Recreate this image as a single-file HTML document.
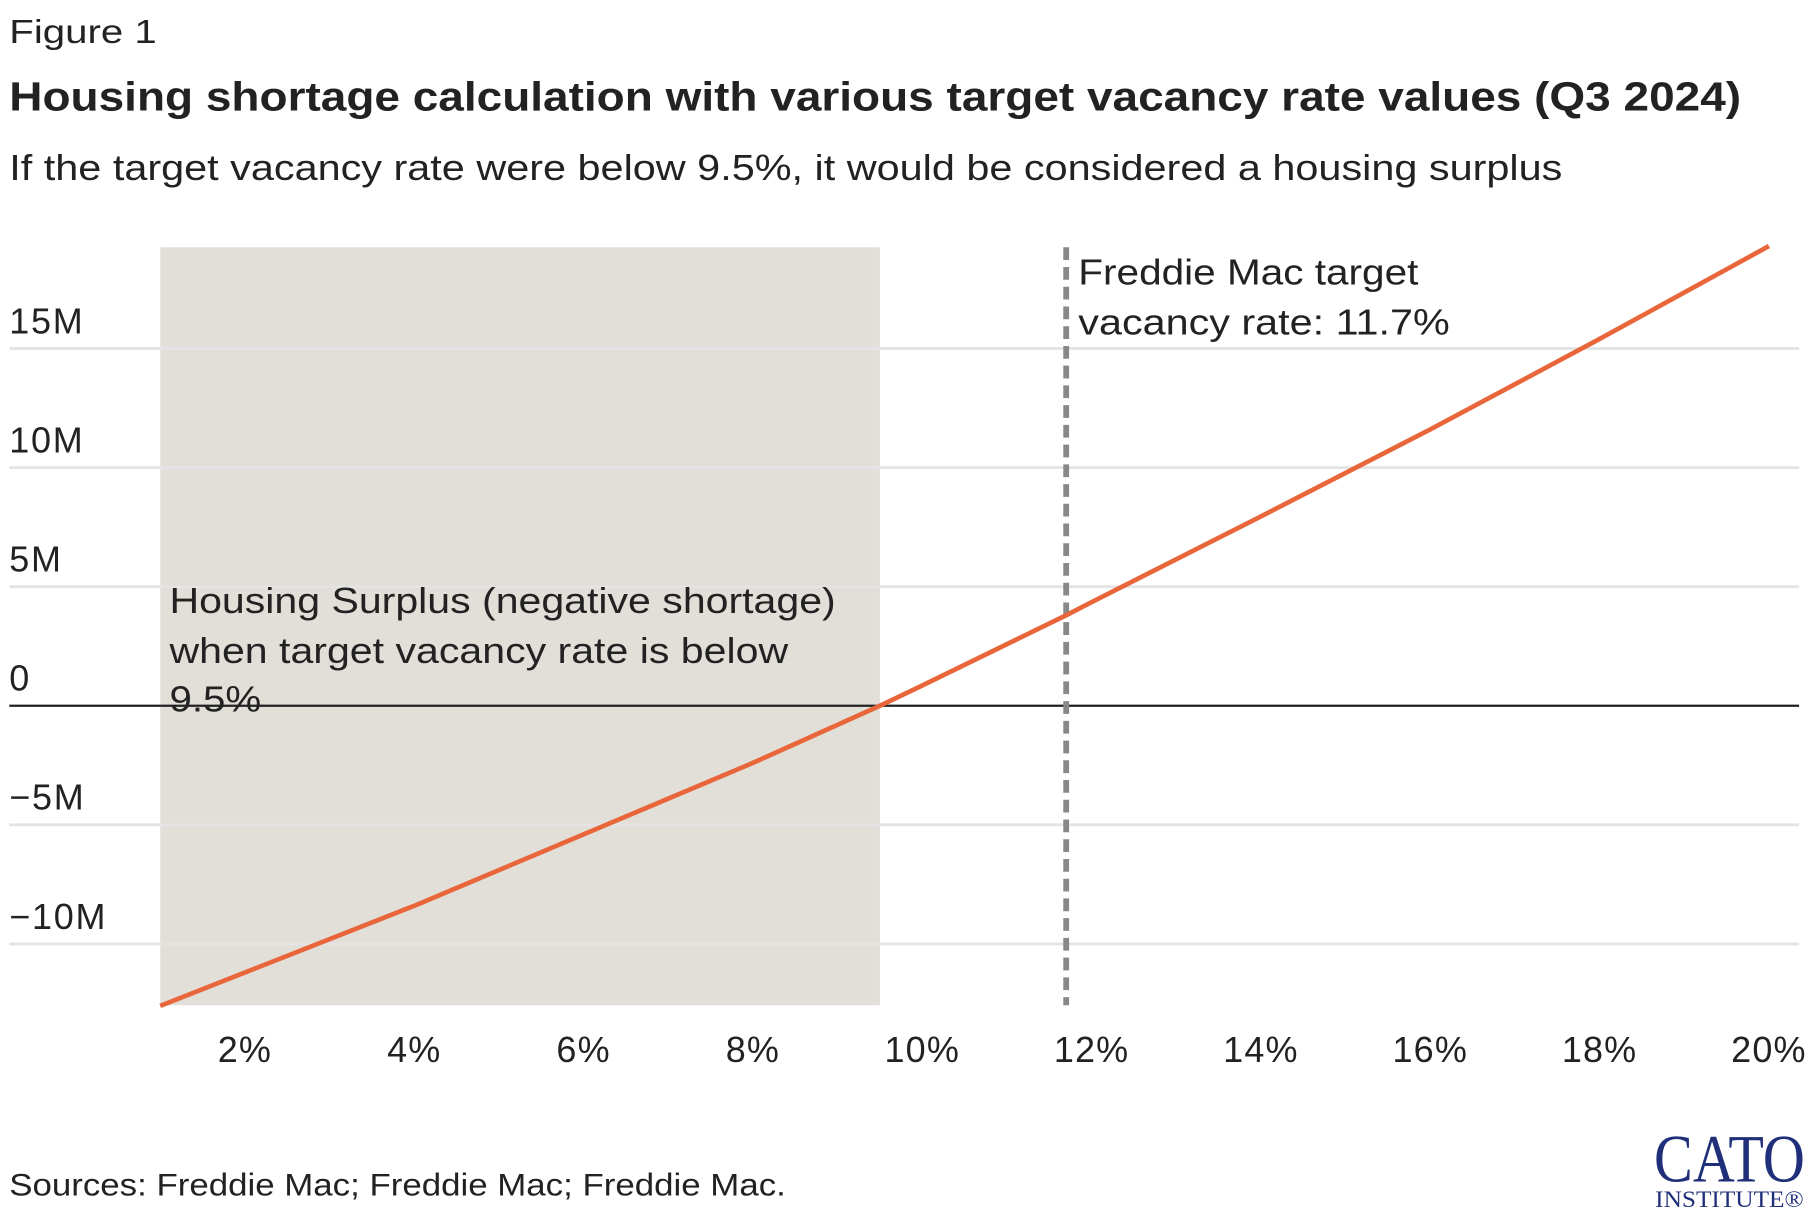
<!DOCTYPE html>
<html><head><meta charset="utf-8"><style>
html,body{margin:0;padding:0;background:#fff}
svg{display:block}
text{font-family:"Liberation Sans",sans-serif;fill:#222}
</style></head><body>
<svg width="1820" height="1220" viewBox="0 0 1568 1051" id="chart">
<text x="8" y="37" font-size="29" textLength="127" lengthAdjust="spacingAndGlyphs">Figure 1</text>
<text x="8" y="95" font-size="35" font-weight="bold" textLength="1492" lengthAdjust="spacingAndGlyphs">Housing shortage calculation with various target vacancy rate values (Q3 2024)</text>
<text x="8" y="155" font-size="31" textLength="1338" lengthAdjust="spacingAndGlyphs">If the target vacancy rate were below 9.5%, it would be considered a housing surplus</text>
<g id="plot"></g>
<text x="8" y="1030" font-size="27" textLength="669" lengthAdjust="spacingAndGlyphs">Sources: Freddie Mac; Freddie Mac; Freddie Mac.</text>
<g>
<text x="1490" y="1018" font-size="58" text-anchor="middle" style="font-family:'Liberation Serif',serif;fill:#1f2f7a" textLength="130" lengthAdjust="spacingAndGlyphs">CATO</text>
<text x="1490" y="1040" font-size="20" text-anchor="middle" style="font-family:'Liberation Serif',serif;fill:#1f2f7a" textLength="128" lengthAdjust="spacingAndGlyphs">INSTITUTE®</text>
</g>
</svg>
<script>
const xVals=[1,2,4,6,8,9.5,10,11.7,12,14,16,18,20];
const yVals=[-12.6,-11.2,-8.4,-5.4,-2.4,0,0.85,3.8,4.35,7.95,11.6,15.4,19.3];
const xTicks=[2,4,6,8,10,12,14,16,18,20];
const yTicks=[15,10,5,0,-5,-10];
const yTickLabels=["15M","10M","5M","0","\u22125M","\u221210M"];
const shadeMax=9.5;
const targetRate=11.7;
const NS="http://www.w3.org/2000/svg";
const xs=v=>211+(v-2)*72.944;
const ys=v=>608-v*20.52;
const g=document.getElementById('plot');
function mk(t,a){const e=document.createElementNS(NS,t);for(const k in a)e.setAttribute(k,a[k]);g.appendChild(e);return e;}
let r=mk('rect',{x:xs(1),y:213,width:xs(shadeMax)-xs(1),height:866-213,fill:'#e2ded8'});


yTicks.forEach((v,i)=>{
 let l=mk('line',{x1:8,x2:1550,y1:ys(v),y2:ys(v),stroke:v===0?'#222':'#e4e4e4','stroke-width':v===0?2:2.5});
 
 
 let t=mk('text',{x:8,y:ys(v)-13,'font-size':31,'letter-spacing':'1.5'});
 t.textContent=yTickLabels[i];
 
 
});
xTicks.forEach(v=>{
 let t=mk('text',{x:xs(v),y:915,'font-size':31,'text-anchor':'middle','letter-spacing':'1'});
 t.textContent=v+'%';
 
 
});
let d=mk('line',{x1:xs(targetRate),x2:xs(targetRate),y1:213,y2:866,stroke:'#888','stroke-width':5,'stroke-dasharray':'11 6'});


let p=mk('polyline',{points:xVals.map((x,i)=>xs(x)+','+ys(yVals[i])).join(' '),fill:'none',stroke:'#e8663a','stroke-width':4,'stroke-linejoin':'round'});


[["Housing Surplus (negative shortage)",528,574],["when target vacancy rate is below",571,533],["9.5%",613,79]].forEach(([s,y,w])=>{
 let t=mk('text',{x:146,y:y,'font-size':31,textLength:w,lengthAdjust:'spacingAndGlyphs'});t.textContent=s;
 
 
});
[["Freddie Mac target",245,293],["vacancy rate: 11.7%",288,320]].forEach(([s,y,w])=>{
 let t=mk('text',{x:929,y:y,'font-size':31,textLength:w,lengthAdjust:'spacingAndGlyphs'});t.textContent=s;
 
 
});
</script>
</body></html>
